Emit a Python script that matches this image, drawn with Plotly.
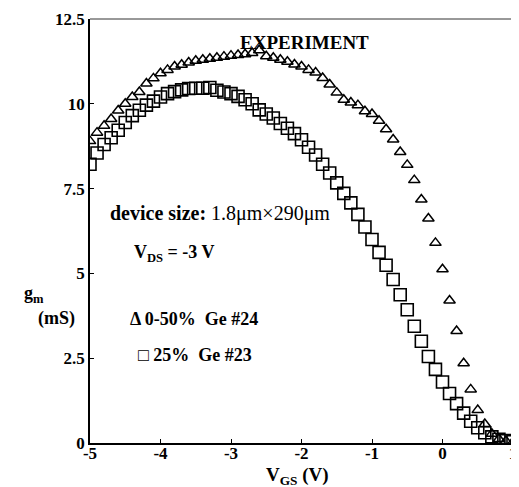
import plotly.graph_objects as go

vgs = [round(-5.0 + 0.1 * i, 1) for i in range(61)]

gm_tri = [8.9, 9.15, 9.35, 9.55, 9.8, 10.0, 10.2, 10.35, 10.6, 10.75,
          10.9, 11.0, 11.1, 11.15, 11.22, 11.27, 11.3, 11.33, 11.36, 11.39,
          11.42, 11.44, 11.46, 11.5, 11.58, 11.4, 11.36, 11.3, 11.24, 11.16,
          11.1, 11.0, 10.92, 10.76, 10.57, 10.33, 10.12, 10.04, 9.96, 9.78,
          9.7, 9.5, 9.25, 8.95, 8.58, 8.2, 7.75, 7.18, 6.62, 5.9,
          5.12, 4.2, 3.3, 2.35, 1.58, 0.97, 0.56, 0.27, 0.12, 0.06, 0.03]

gm_sq = [8.22, 8.55, 8.8, 9.0, 9.22, 9.45, 9.65, 9.81, 9.96, 10.08,
         10.2, 10.3, 10.36, 10.41, 10.45, 10.46, 10.46, 10.48, 10.4, 10.35,
         10.3, 10.22, 10.12, 10.0, 9.82, 9.7, 9.58, 9.42, 9.28, 9.12,
         8.94, 8.72, 8.49, 8.22, 7.96, 7.67, 7.36, 7.08, 6.74, 6.37,
         6.0, 5.62, 5.24, 4.82, 4.37, 3.93, 3.44, 3.0, 2.55, 2.17,
         1.8, 1.46, 1.16, 0.88, 0.64, 0.45, 0.3, 0.18, 0.11, 0.07, 0.04]

x_ticks = [-5, -4, -3, -2, -1, 0, 1]
x_ticklabels = ["-5", "-4", "-3", "-2", "-1", "0", "1"]
y_ticks = [0, 2.5, 5, 7.5, 10, 12.5]
y_ticklabels = ["0", "2.5", "5", "7.5", "10", "12.5"]

FONT = "Liberation Serif"

fig = go.Figure()
fig.add_trace(go.Scatter(
    x=vgs, y=gm_tri, mode="markers", name="0-50% Ge #24",
    marker=dict(symbol="triangle-up-open", size=10, color="black",
                line=dict(width=1.5, color="black")),
))
fig.add_trace(go.Scatter(
    x=vgs, y=gm_sq, mode="markers", name="25% Ge #23",
    marker=dict(symbol="square-open", size=12, color="black",
                line=dict(width=1.6, color="black")),
))

axis_common = dict(showgrid=False, zeroline=False, showline=True,
                   linecolor="black", linewidth=1.5, ticks="inside",
                   ticklen=4, tickcolor="black", tickwidth=1,
                   ticklabeloverflow="allow",
                   tickfont=dict(family=FONT, size=17, color="black"))

fig.update_xaxes(range=[-5, 1], tickvals=x_ticks,
                 ticktext=["<b>%s</b>" % t for t in x_ticklabels],
                 ticklabelstandoff=-6,
                 **axis_common)
fig.update_yaxes(range=[0, 12.5], tickvals=y_ticks,
                 ticktext=["<b>%s</b>" % t for t in y_ticklabels],
                 **axis_common)

# frame top/right
fig.add_shape(type="line", xref="paper", yref="paper", x0=0, x1=1, y0=1, y1=1,
              line=dict(color="#333", width=1))
fig.add_shape(type="line", xref="paper", yref="paper", x0=1, x1=1, y0=0, y1=1,
              line=dict(color="#333", width=1.5))

ann_font = dict(family=FONT, size=18, color="black")
fig.add_annotation(text="<b>EXPERIMENT</b>", x=-1.96, y=11.82, xref="x", yref="y",
                   showarrow=False, font=dict(family=FONT, size=19, color="black"))
fig.add_annotation(text="<b>device size:</b> 1.8μm×290μm", x=-4.74, y=6.78,
                   xref="x", yref="y", xanchor="left", showarrow=False,
                   font=dict(family=FONT, size=20, color="black"))
fig.add_annotation(text="<b>V<sub>DS</sub> = -3 V</b>", x=-4.4, y=5.6,
                   xref="x", yref="y", xanchor="left", showarrow=False, font=ann_font)
fig.add_annotation(text="<b>Δ 0-50%  Ge #24</b>", x=-4.46, y=3.67,
                   xref="x", yref="y", xanchor="left", showarrow=False, font=ann_font)
fig.add_annotation(text="<b>□ 25%  Ge #23</b>", x=-4.35, y=2.6,
                   xref="x", yref="y", xanchor="left", showarrow=False, font=ann_font)

# axis titles
fig.add_annotation(text="<b>g<sub>m</sub></b>", x=-0.16, y=0.35, xref="paper",
                   yref="paper", showarrow=False, font=ann_font)
fig.add_annotation(text="<b>(mS)</b>", x=-0.128, y=0.265, xref="paper",
                   yref="paper", showarrow=False, font=ann_font)
fig.add_annotation(text="<b>V<sub>GS</sub> (V)</b>", x=0.49, y=-0.077, xref="paper",
                   yref="paper", showarrow=False, yanchor="middle",
                   font=dict(family=FONT, size=19, color="black"))

fig.update_layout(
    width=511, height=479,
    margin=dict(l=82, r=2, t=9, b=44),
    plot_bgcolor="white", paper_bgcolor="white",
    showlegend=False,
    font=dict(family=FONT, color="black"),
)

fig.write_html("out.html")
